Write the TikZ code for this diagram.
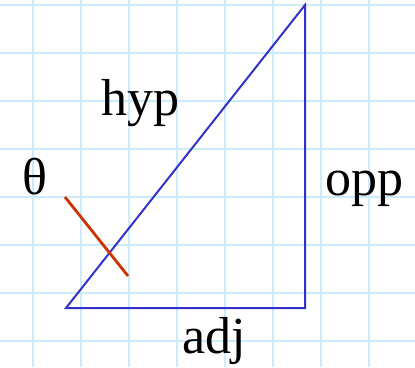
\documentclass[tikz,border=0pt]{standalone}
\usepackage{fontspec}
\setmainfont{Liberation Serif}
\definecolor{gridblue}{RGB}{204,236,252}
\definecolor{triblue}{RGB}{51,51,204}
\definecolor{angred}{RGB}{204,51,0}
\tikzset{
  gridline/.style={draw=gridblue, line width=2.5pt},
  side/.style={draw=triblue, line width=2pt, line join=miter},
  mark line/.style={draw=angred, line width=2.8pt},
  lbl/.style={anchor=base west, inner sep=0pt, font=\fontsize{52}{60}\selectfont}
}
\begin{document}
\begin{tikzpicture}[x=1pt,y=-1pt]
\useasboundingbox (0,0) rectangle (415,367);
\fill[white] (0,0) rectangle (415,367);
\foreach \i in {0,...,7} {
  \draw[gridline] ({33+48*\i},0) -- ({33+48*\i},367);
  \draw[gridline] (0,{5+48*\i}) -- (415,{5+48*\i});
}
\coordinate (A) at (66,308);
\coordinate (B) at (305,308);
\coordinate (C) at (305,5);
\coordinate (R1) at (65,197);
\coordinate (R2) at (128,276);
\draw[side] (A) -- (B) -- (C) -- cycle;
\draw[mark line] (R1) -- (R2);
\node[lbl] (hyp) at (101,115) {hyp};
\node[lbl] (theta) at (22,194) {θ};
\node[lbl] (opp) at (325,195) {opp};
\node[lbl] (adj) at (182,353) {adj};
\end{tikzpicture}
\end{document}
